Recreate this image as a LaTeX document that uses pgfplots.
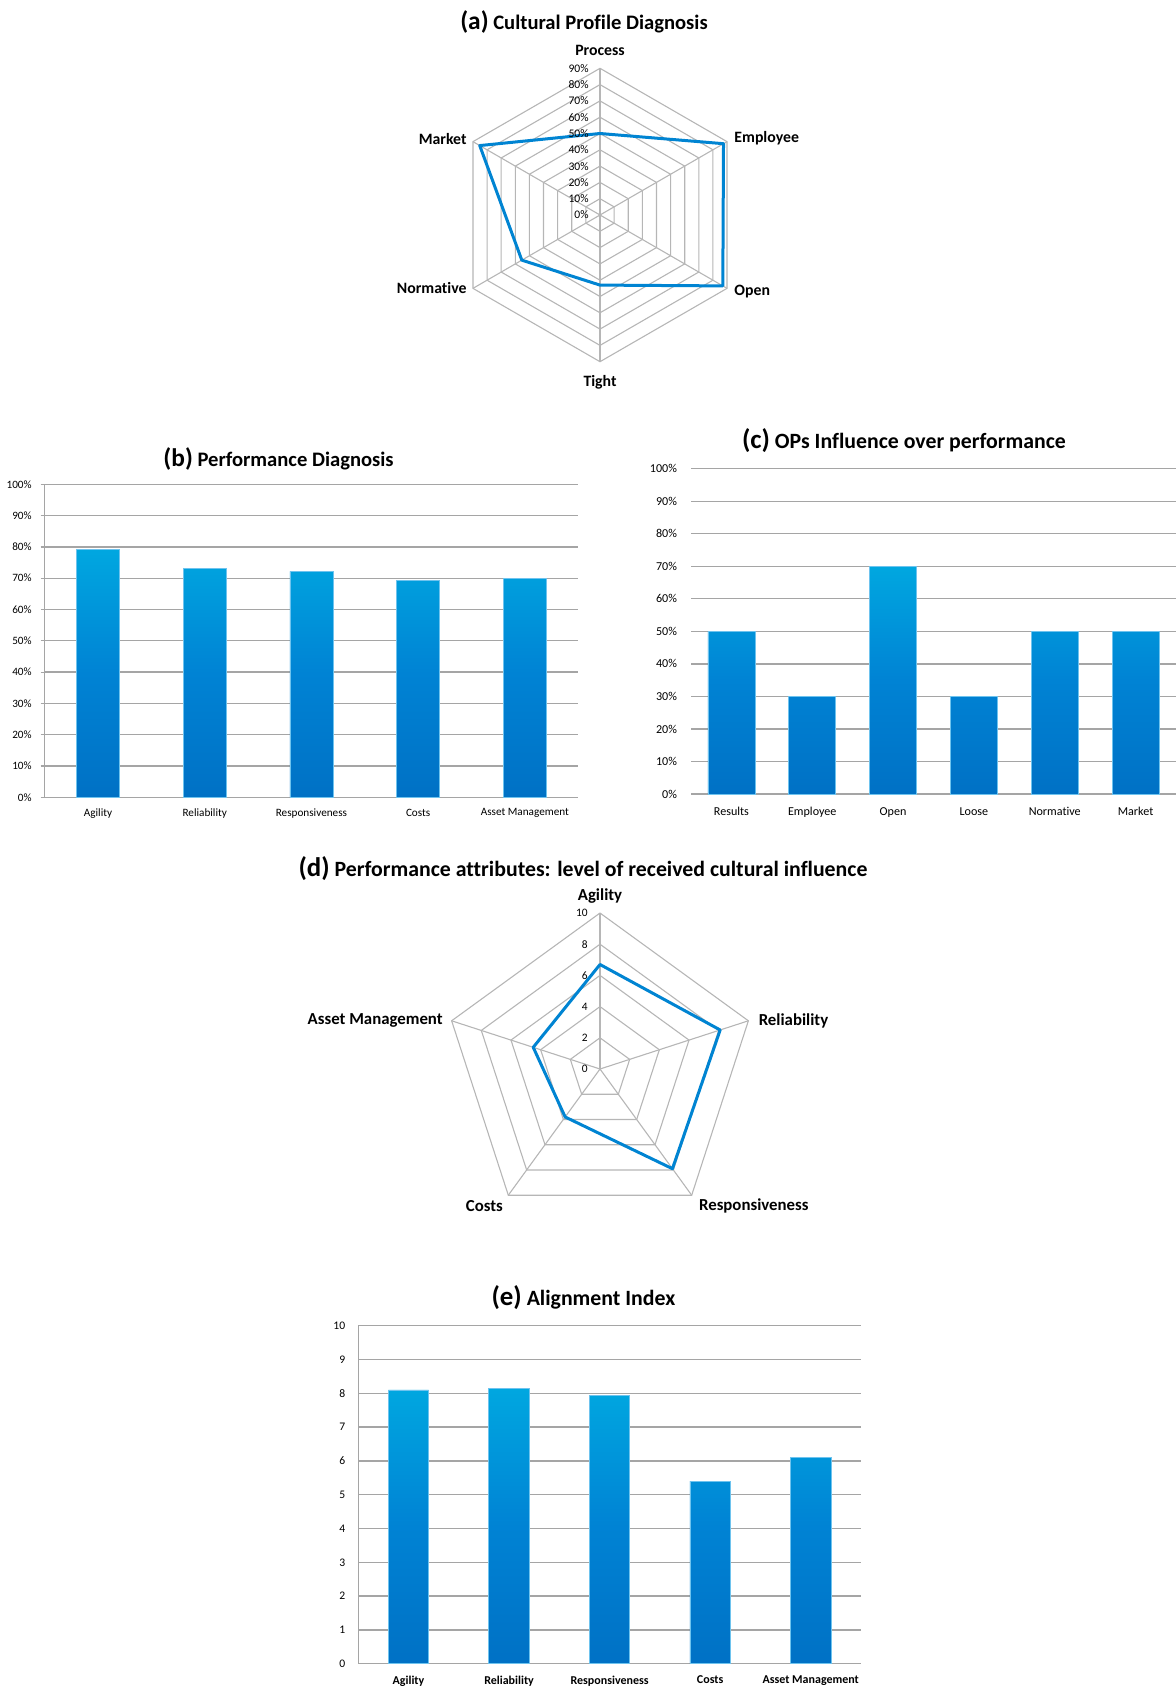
\documentclass[border=0pt]{standalone}
\usepackage{pgfplots}
\pgfplotsset{compat=1.18}
\usepgfplotslibrary{polar}
\usepackage{fontspec}
\setmainfont{Carlito}[Ligatures=NoCommon]

\definecolor{barTop}{RGB}{0,167,224}
\definecolor{barMid}{RGB}{0,131,212}
\definecolor{barBot}{RGB}{0,113,197}
\definecolor{barEdge}{RGB}{110,195,238}
\definecolor{radarLine}{RGB}{0,132,210}
\definecolor{gridc}{RGB}{165,165,165}
\definecolor{webc}{RGB}{182,182,182}

% panel heading: bigger letter in brackets, then the caption
\newcommand{\ptitle}[3][10.3]{\bfseries\fontsize{#1}{12}\selectfont{\fontsize{\fpeval{#1*1.233}}{14}\selectfont(#2)} #3}

\pgfplotsset{
  barchart/.style={
    scale only axis,
    anchor=south west,
    /pgf/number format/assume math mode=true,
    ymajorgrids,
    grid style={gridc, line width=0.65pt},
    axis line style={gridc, line width=0.65pt},
    tick style={gridc, line width=0.6pt},
    clip=false,
  },
  gradbar/.style={
    ybar, bar width=#1,
    draw=barEdge, line width=0.4pt,
    top color=barTop, bottom color=barBot, middle color=barMid,
  },
  radar/.style={
    scale only axis,
    anchor=center,
    xmin=0, xmax=360,
    xtick=\empty, ytick=\empty,
    axis line style={draw=none},
    clip=false,
  },
  web/.style={webc, line width=0.55pt},
  radarplot/.style={radarLine, line width=1.5pt, line join=round, line cap=round, mark=none},
}

\begin{document}
\begin{tikzpicture}
\useasboundingbox (0pt,0pt) rectangle (588pt,-843pt);

% ---------------- (a) Cultural profile radar ----------------
\node[anchor=base] at (292pt,-14.65pt) {\ptitle{a}{Cultural Profile Diagnosis}};
\begin{polaraxis}[radar,
  at={(300pt,-107.5pt)},
  width=146.7pt, height=146.7pt,
  ymin=0, ymax=90,
]
  \pgfplotsinvokeforeach{10,20,...,90}{
    \addplot[web] coordinates {(90,#1) (30,#1) (330,#1) (270,#1) (210,#1) (150,#1) (90,#1)};
  }
  \pgfplotsinvokeforeach{90,30,330,270,210,150}{
    \addplot[web] coordinates {(#1,0) (#1,90)};
  }
  % Process, Employee, Open, Tight, Normative, Market
  \addplot[radarplot] coordinates {(90,50) (30,87.5) (330,87) (270,43) (210,55.4) (150,85.2) (90,50)};
  \pgfplotsinvokeforeach{0,10,...,90}{
    \node[anchor=east, inner sep=0pt, xshift=-5.5pt, font=\fontsize{5.8}{6}\selectfont] at (axis cs:90,#1) {#1\%};
  }
  \begin{scope}[every node/.style={font=\bfseries\fontsize{7.9}{9}\selectfont, inner sep=0pt}]
    \node[anchor=base] at (axis cs:90,90) [yshift=6.6pt] {Process};
    \node[anchor=west] at (axis cs:30,90) [xshift=3.5pt, yshift=1.5pt] {Employee};
    \node[anchor=west] at (axis cs:330,90) [xshift=3.5pt, yshift=-1.8pt] {Open};
    \node[anchor=base] at (axis cs:270,90) [yshift=-12.5pt] {Tight};
    \node[anchor=east] at (axis cs:210,90) [xshift=-3pt, yshift=0pt] {Normative};
    \node[anchor=east] at (axis cs:150,90) [xshift=-3pt, yshift=1.5pt] {Market};
  \end{scope}
\end{polaraxis}

% ---------------- (b) Performance diagnosis ----------------
\node[anchor=base] at (139.3pt,-233pt) {\ptitle{b}{Performance Diagnosis}};
\begin{axis}[barchart,
  at={(22.35pt,-398.65pt)},
  width=266.75pt, height=156.5pt,
  xmin=-0.5, xmax=4.5, ymin=0, ymax=100,
  axis x line*=bottom, axis y line*=left,
  tick align=outside, major tick length=2pt,
  ytick={0,10,...,100},
  yticklabel={\pgfmathprintnumber{\tick}\%},
  xtick={0,1,2,3,4},
  xticklabels={Agility,Reliability,Responsiveness,Costs,Asset Management},
  xtick style={draw=none},
  extra x ticks={-0.5,0.5,1.5,2.5,3.5,4.5},
  extra x tick labels={},
  extra x tick style={grid=none, tick style={gridc, line width=0.6pt}},
  tick label style={font=\fontsize{5.6}{6}\selectfont},
  yticklabel style={xshift=-1pt},
  xticklabel style={yshift=-0.2pt},
]
  \addplot[gradbar=21.5pt] coordinates {(0,79.3) (1,73.0) (2,72.2) (3,69.2) (4,70.0)};
\end{axis}

% ---------------- (c) OPs influence over performance ----------------
\node[anchor=base] at (452pt,-224.2pt) {\ptitle[10.9]{c}{OPs Influence over performance}};
\begin{axis}[barchart,
  at={(345.5pt,-397pt)},
  width=242.5pt, height=162.65pt,
  xmin=-0.5, xmax=5.5, ymin=0, ymax=100,
  axis line style={draw=none},
  major tick length=0pt,
  ytick={0,10,...,100},
  yticklabel={\pgfmathprintnumber{\tick}\%},
  xtick={0,...,5},
  xticklabels={Results,Employee,Open,Loose,Normative,Market},
  tick label style={font=\fontsize{6.05}{7}\selectfont},
  yticklabel style={xshift=-3.5pt},
  xticklabel style={yshift=-3.2pt},
]
  \addplot[gradbar=23.5pt] coordinates {(0,50) (1,30) (2,70) (3,30) (4,50) (5,50)};
\end{axis}

% ---------------- (d) Performance attributes radar ----------------
\node[anchor=base] at (291.5pt,-438.3pt) {\ptitle[10.9]{d}{Performance attributes: level of received cultural influence}};
\begin{polaraxis}[radar,
  at={(300pt,-534.5pt)},
  width=156pt, height=156pt,
  ymin=0, ymax=10,
]
  \pgfplotsinvokeforeach{2,4,...,10}{
    \addplot[web] coordinates {(90,#1) (18,#1) (306,#1) (234,#1) (162,#1) (90,#1)};
  }
  \pgfplotsinvokeforeach{90,18,306,234,162}{
    \addplot[web] coordinates {(#1,0) (#1,10)};
  }
  % Agility, Reliability, Responsiveness, Costs, Asset Management
  \addplot[radarplot] coordinates {(90,6.7) (18,8.1) (306,7.9) (234,3.8) (162,4.5) (90,6.7)};
  \pgfplotsinvokeforeach{0,2,...,10}{
    \node[anchor=east, inner sep=0pt, xshift=-6pt, font=\fontsize{5.7}{6}\selectfont] at (axis cs:90,#1) {#1};
  }
  \begin{scope}[every node/.style={font=\bfseries\fontsize{8.4}{10}\selectfont, inner sep=0pt}]
    \node[anchor=base] at (axis cs:90,10) [yshift=6.5pt] {Agility};
    \node[anchor=west] at (axis cs:18,10) [xshift=5pt, yshift=0pt] {Reliability};
    \node[anchor=west] at (axis cs:306,10) [xshift=3.5pt, yshift=-5.5pt] {Responsiveness};
    \node[anchor=east] at (axis cs:234,10) [xshift=-2.5pt, yshift=-5.5pt] {Costs};
    \node[anchor=east] at (axis cs:162,10) [xshift=-4.3pt, yshift=0pt] {Asset Management};
  \end{scope}
\end{polaraxis}

% ---------------- (e) Alignment index ----------------
\node[anchor=base] at (291.7pt,-652.5pt) {\ptitle[10.9]{e}{Alignment Index}};
\begin{axis}[barchart,
  at={(179.1pt,-831.85pt)},
  width=251.4pt, height=169pt,
  xmin=-0.5, xmax=4.5, ymin=0, ymax=10,
  axis x line*=bottom, axis y line*=left,
  major tick length=0pt,
  ytick={0,1,...,10},
  xtick={0,1,2,3,4},
  xticklabels={Agility,Reliability,Responsiveness,Costs,Asset Management},
  yticklabel style={font=\fontsize{5.8}{7}\selectfont, xshift=-3pt},
  xticklabel style={font=\bfseries\fontsize{6}{7}\selectfont, yshift=-2.5pt},
]
  \addplot[gradbar=20.2pt] coordinates {(0,8.10) (1,8.15) (2,7.95) (3,5.40) (4,6.10)};
\end{axis}
\end{tikzpicture}
\end{document}
